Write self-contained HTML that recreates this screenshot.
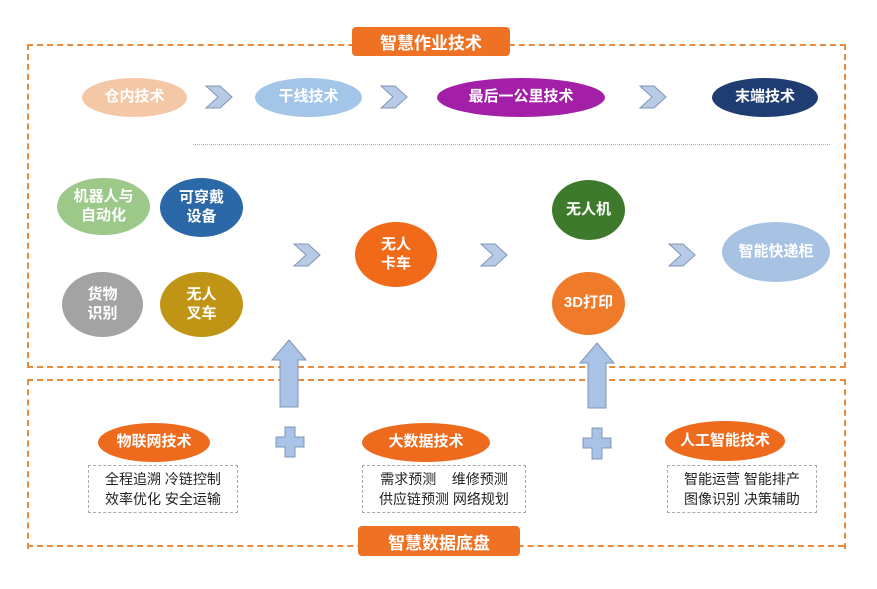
<!DOCTYPE html>
<html><head><meta charset="utf-8"><style>
body{margin:0;width:877px;height:589px;background:#fff;position:relative;overflow:hidden;font-family:"Liberation Sans","Noto Sans CJK SC",sans-serif;}
.a{position:absolute;}
.e{position:absolute;border-radius:50%;color:#fff;font-weight:bold;display:flex;align-items:center;justify-content:center;text-align:center;line-height:1.25;font-size:15px;}
.box{position:absolute;border:2px dashed #ec8a3c;}
.t{position:absolute;background:#ee7124;color:#fff;font-weight:bold;font-size:17px;border-radius:4px;display:flex;align-items:center;justify-content:center;}
.tx{position:absolute;border:1px dashed #aaa;font-size:14px;line-height:20px;color:#222;padding:3px 0;white-space:pre;text-align:center;box-sizing:border-box;height:48px;}
</style></head><body>
<div class="box" style="left:27px;top:44px;width:815px;height:320px;"></div>
<div class="box" style="left:27px;top:379px;width:815px;height:168px;border-bottom:none;"></div>
<div class="a" style="left:27px;top:545px;width:817px;border-top:2px dashed #ec8a3c;"></div>
<div class="t" style="left:352px;top:27px;width:158px;height:29px;">智慧作业技术</div>
<div class="t" style="left:358px;top:526px;width:162px;height:30px;">智慧数据底盘</div>
<div class="a" style="left:193px;top:144px;width:637px;border-top:1px dotted #c9a88a;"></div>

<svg class="a" style="left:0;top:0" width="877" height="589">
<defs><polygon id="ch" points="0,0 14,0 26,11 14,22 0,22 12,11" fill="#b8cbe6" stroke="#7f95b5" stroke-width="1"/></defs>
<use href="#ch" x="206" y="86"/><use href="#ch" x="381" y="86"/><use href="#ch" x="640" y="86"/>
<use href="#ch" x="294" y="244"/><use href="#ch" x="481" y="244"/><use href="#ch" x="669" y="244"/>
<polygon points="289,340 306,360 298,360 298,407 280,407 280,360 272,360" fill="#a9c3e6" stroke="#7f95b5"/>
<polygon points="597,343 614,363 606,363 606,408 588,408 588,363 580,363" fill="#a9c3e6" stroke="#7f95b5"/>
<polygon points="285,427 295,427 295,437 304,437 304,447 295,447 295,457 285,457 285,447 276,447 276,437 285,437" fill="#a9c3e6" stroke="#7f95b5"/>
<polygon points="592,428 602,428 602,438 611,438 611,448 602,448 602,459 592,459 592,448 583,448 583,438 592,438" fill="#a9c3e6" stroke="#7f95b5"/>
</svg>

<div class="e" style="left:82px;top:78px;width:105px;height:39px;background:#f4c8a6;">仓内技术</div>
<div class="e" style="left:255px;top:78px;width:107px;height:39px;background:#a2c5e8;">干线技术</div>
<div class="e" style="left:437px;top:78px;width:168px;height:39px;background:#a31fa8;">最后一公里技术</div>
<div class="e" style="left:712px;top:78px;width:106px;height:39px;background:#1f3d72;">末端技术</div>

<div class="e" style="left:57px;top:178px;width:93px;height:57px;background:#9cc98a;">机器人与<br>自动化</div>
<div class="e" style="left:160px;top:178px;width:83px;height:59px;background:#2a68a8;">可穿戴<br>设备</div>
<div class="e" style="left:62px;top:272px;width:81px;height:65px;background:#a3a3a3;">货物<br>识别</div>
<div class="e" style="left:160px;top:272px;width:83px;height:65px;background:#c09515;">无人<br>叉车</div>
<div class="e" style="left:355px;top:222px;width:82px;height:65px;background:#f06a1a;">无人<br>卡车</div>
<div class="e" style="left:552px;top:180px;width:73px;height:60px;background:#3e7a2c;">无人机</div>
<div class="e" style="left:552px;top:272px;width:73px;height:63px;background:#ee7a2a;">3D打印</div>
<div class="e" style="left:722px;top:222px;width:108px;height:60px;background:#a7c2e2;">智能快递柜</div>

<div class="e" style="left:98px;top:423px;width:112px;height:39px;background:#ee6a1c;">物联网技术</div>
<div class="e" style="left:362px;top:423px;width:128px;height:39px;background:#ee6a1c;">大数据技术</div>
<div class="e" style="left:665px;top:421px;width:120px;height:40px;background:#ee6a1c;">人工智能技术</div>

<div class="tx" style="left:88px;top:465px;width:150px;">全程追溯 冷链控制
效率优化 安全运输</div>
<div class="tx" style="left:362px;top:465px;width:164px;">需求预测    维修预测
供应链预测 网络规划</div>
<div class="tx" style="left:667px;top:465px;width:150px;">智能运营 智能排产
图像识别 决策辅助</div>
</body></html>
